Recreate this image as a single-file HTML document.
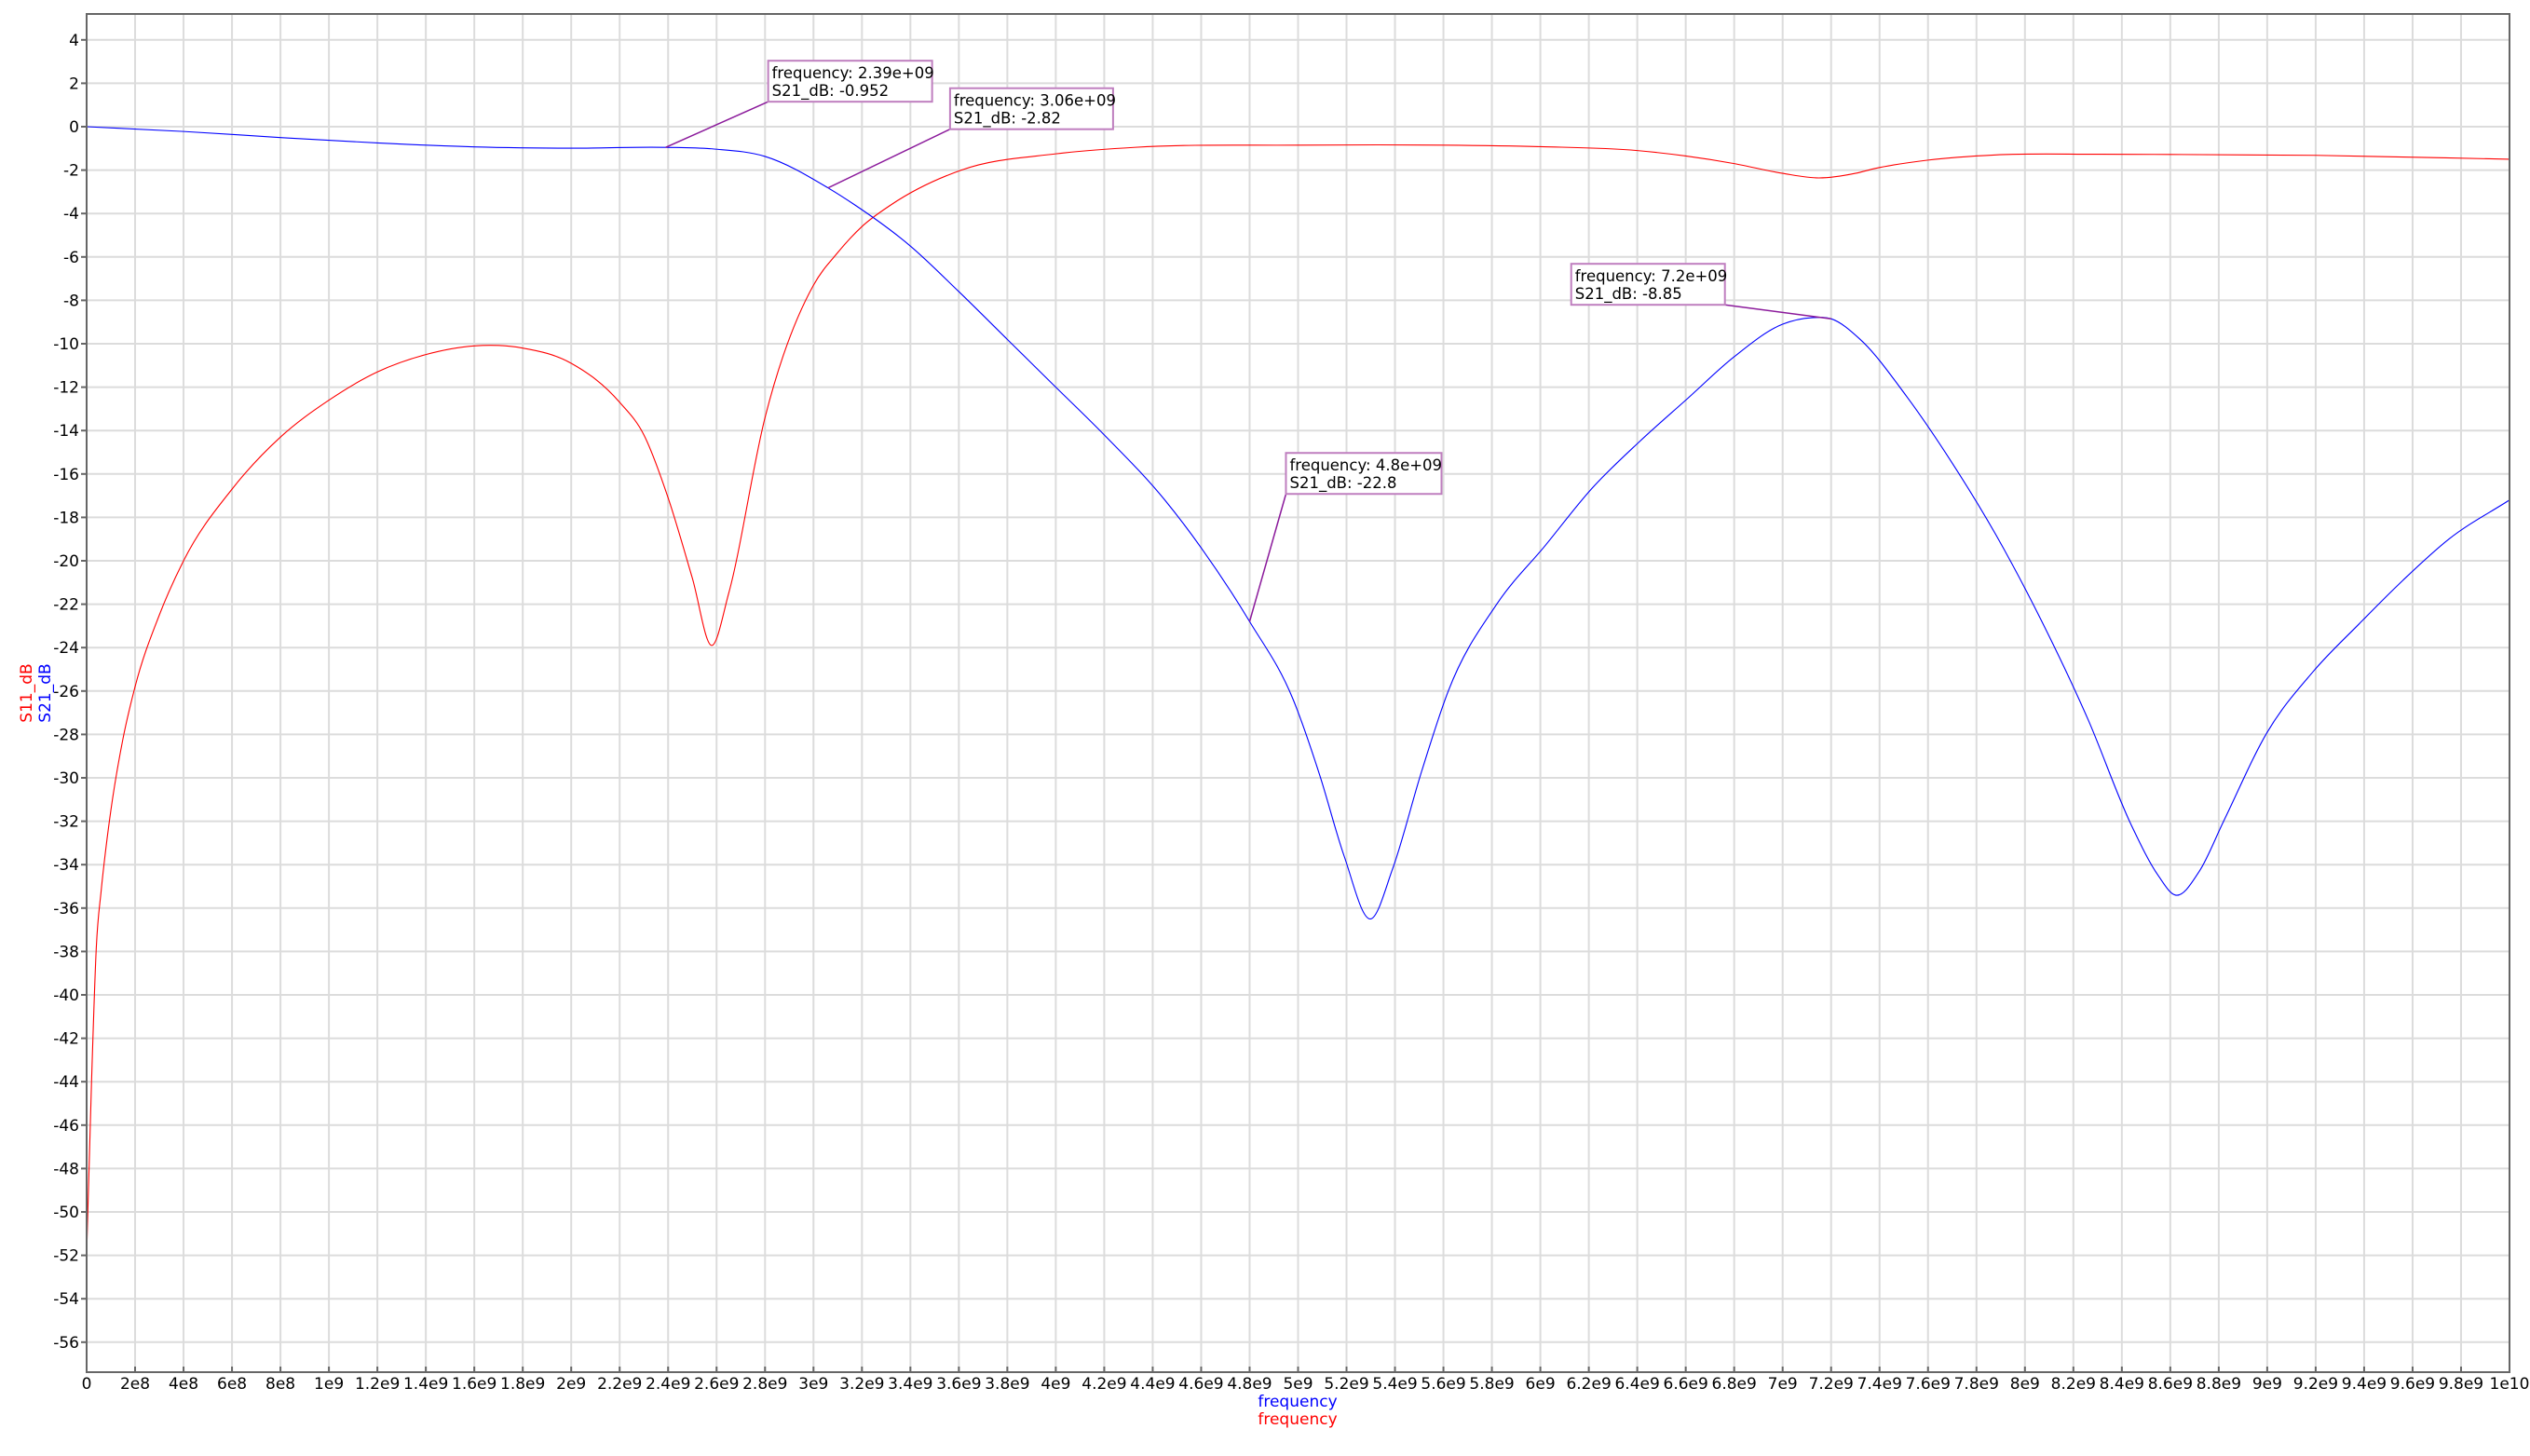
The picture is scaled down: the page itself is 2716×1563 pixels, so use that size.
<!DOCTYPE html>
<html><head><meta charset="utf-8"><style>
html,body{margin:0;padding:0;background:#fff;}
svg{display:block;font-family:"DejaVu Sans","Liberation Sans",sans-serif;}
</style></head><body>
<svg id="chart" width="2716" height="1563" viewBox="0 0 2716 1563" xmlns="http://www.w3.org/2000/svg">
<rect x="0" y="0" width="2716" height="1563" fill="#fff"/>
<g id="grid"></g>
<g id="series"></g>
<g id="axes"></g>
<g id="annots"></g>
<text x="1393" y="1510" font-size="17" fill="#0000ff" text-anchor="middle">frequency</text>
<text x="1393" y="1529" font-size="17" fill="#ff0000" text-anchor="middle">frequency</text>
<text transform="translate(34,744) rotate(-90)" font-size="17" fill="#ff0000" text-anchor="middle">S11_dB</text>
<text transform="translate(54,744) rotate(-90)" font-size="17" fill="#0000ff" text-anchor="middle">S21_dB</text>
</svg>
<script>
const xTickValues = [0,2e8,4e8,6e8,8e8,1e9,1.2e9,1.4e9,1.6e9,1.8e9,2e9,2.2e9,2.4e9,2.6e9,2.8e9,3e9,3.2e9,3.4e9,3.6e9,3.8e9,4e9,4.2e9,4.4e9,4.6e9,4.8e9,5e9,5.2e9,5.4e9,5.6e9,5.8e9,6e9,6.2e9,6.4e9,6.6e9,6.8e9,7e9,7.2e9,7.4e9,7.6e9,7.8e9,8e9,8.2e9,8.4e9,8.6e9,8.8e9,9e9,9.2e9,9.4e9,9.6e9,9.8e9,1e10];
const xTickLabels = ["0","2e8","4e8","6e8","8e8","1e9","1.2e9","1.4e9","1.6e9","1.8e9","2e9","2.2e9","2.4e9","2.6e9","2.8e9","3e9","3.2e9","3.4e9","3.6e9","3.8e9","4e9","4.2e9","4.4e9","4.6e9","4.8e9","5e9","5.2e9","5.4e9","5.6e9","5.8e9","6e9","6.2e9","6.4e9","6.6e9","6.8e9","7e9","7.2e9","7.4e9","7.6e9","7.8e9","8e9","8.2e9","8.4e9","8.6e9","8.8e9","9e9","9.2e9","9.4e9","9.6e9","9.8e9","1e10"];
const yTickValues = [4,2,0,-2,-4,-6,-8,-10,-12,-14,-16,-18,-20,-22,-24,-26,-28,-30,-32,-34,-36,-38,-40,-42,-44,-46,-48,-50,-52,-54,-56];
// frequencies in GHz
const s11Freq = [0,0.02,0.04,0.06,0.08,0.1,0.15,0.2,0.3,0.4,0.6,0.8,1.0,1.2,1.4,1.6,1.7,1.8,2.0,2.2,2.3,2.4,2.5,2.58,2.65,2.8,3.0,3.1,3.2,3.32,3.61,4.0,4.33,5.0,5.6,6.0,6.4,6.6,6.8,7.0,7.15,7.3,7.38,7.6,7.88,8.3,8.6,9.2,10.0];
const s11dB = [-52,-44.1,-37.8,-35.2,-33.2,-31.5,-28.2,-25.8,-22.5,-20.0,-16.7,-14.3,-12.6,-11.3,-10.5,-10.1,-10.08,-10.2,-10.9,-12.7,-14.2,-17.1,-20.8,-23.9,-21.5,-13.4,-7.3,-5.8,-4.6,-3.6,-2.0,-1.25,-0.95,-0.85,-0.85,-0.92,-1.1,-1.35,-1.7,-2.15,-2.36,-2.15,-1.93,-1.54,-1.3,-1.27,-1.28,-1.32,-1.5];
const s21Freq = [0,0.4,0.8,1.2,1.6,2.0,2.39,2.59,2.8,3.06,3.17,3.4,3.6,3.8,4.0,4.2,4.45,4.6,4.8,4.98,5.09,5.19,5.30,5.39,5.51,5.62,5.82,6.02,6.21,6.41,6.61,6.80,7.0,7.12,7.2,7.32,7.51,7.70,7.88,8.07,8.26,8.44,8.55,8.62,8.72,8.82,9.0,9.19,9.38,9.56,9.75,10.0];
const s21dB = [0,-0.22,-0.5,-0.75,-0.93,-0.99,-0.952,-1.03,-1.37,-2.82,-3.6,-5.5,-7.6,-9.8,-12.0,-14.2,-17.2,-19.4,-22.8,-26.4,-29.9,-33.6,-36.5,-34.2,-29.7,-26.0,-22.0,-19.3,-16.7,-14.5,-12.5,-10.6,-9.1,-8.8,-8.85,-9.8,-12.4,-15.5,-18.8,-22.8,-27.3,-32.2,-34.5,-35.4,-34.3,-32.0,-27.9,-25.1,-22.9,-20.9,-19.0,-17.2];
const markerFreq = [2.39,3.06,4.8,7.2];
const markerVal = [-0.952,-2.82,-22.8,-8.85];
const markerText = [["frequency: 2.39e+09","S21_dB: -0.952"],["frequency: 3.06e+09","S21_dB: -2.82"],["frequency: 4.8e+09","S21_dB: -22.8"],["frequency: 7.2e+09","S21_dB: -8.85"]];

const NS="http://www.w3.org/2000/svg";
const L=93,R=2694,T=15,B=1473;
const yZero=136, yPer=23.3;
function xs(fGHz){return L+(R-L)*fGHz/10;}
function ys(v){return yZero-v*yPer;}
function mk(tag,attrs,parent){const e=document.createElementNS(NS,tag);for(const k in attrs)e.setAttribute(k,attrs[k]);parent.appendChild(e);return e;}
const grid=document.getElementById('grid'),axes=document.getElementById('axes'),series=document.getElementById('series'),ann=document.getElementById('annots');
xTickValues.forEach((v,i)=>{
  const x=xs(v/1e9);
  const g=mk('line',{x1:x,x2:x,y1:T,y2:B,stroke:'#dcdcdc','stroke-width':2},grid);
  
  
  const t=mk('line',{x1:x,x2:x,y1:B-6,y2:B,stroke:'#666','stroke-width':2},axes);
  
  
  const lb=mk('text',{x:x,y:1491,'font-size':17,'text-anchor':'middle',fill:'#000'},axes);
  lb.textContent=xTickLabels[i];
  
  
});
yTickValues.forEach(v=>{
  const y=ys(v);
  const g=mk('line',{x1:L,x2:R,y1:y,y2:y,stroke:'#dcdcdc','stroke-width':2},grid);
  
  
  const t=mk('line',{x1:L-6,x2:L,y1:y,y2:y,stroke:'#666','stroke-width':2},axes);
  
  
  const lb=mk('text',{x:L-8,y:y+6,'font-size':17,'text-anchor':'end',fill:'#000'},axes);
  lb.textContent=String(v);
  
  
});
const frame=mk('rect',{x:L,y:T,width:R-L,height:B-T,fill:'none',stroke:'#666','stroke-width':2},axes);



function smoothPath(fx,vy){
  const p=fx.map((f,i)=>[xs(f),ys(vy[i])]);
  const n=p.length,m=[];
  for(let i=0;i<n;i++){
    if(i===0){m.push((p[1][1]-p[0][1])/(p[1][0]-p[0][0]));continue;}
    if(i===n-1){m.push((p[i][1]-p[i-1][1])/(p[i][0]-p[i-1][0]));continue;}
    const h0=p[i][0]-p[i-1][0],h1=p[i+1][0]-p[i][0];
    const d0=(p[i][1]-p[i-1][1])/h0,d1=(p[i+1][1]-p[i][1])/h1;
    m.push((d1*h0+d0*h1)/(h0+h1));
  }
  let d='M'+p[0][0].toFixed(2)+' '+p[0][1].toFixed(2);
  for(let i=0;i<n-1;i++){
    const h=p[i+1][0]-p[i][0];
    d+=' C'+(p[i][0]+h/3).toFixed(2)+' '+(p[i][1]+m[i]*h/3).toFixed(2)+' '+(p[i+1][0]-h/3).toFixed(2)+' '+(p[i+1][1]-m[i+1]*h/3).toFixed(2)+' '+p[i+1][0].toFixed(2)+' '+p[i+1][1].toFixed(2);
  }
  return d;
}
const s11=mk('path',{d:smoothPath(s11Freq,s11dB),fill:'none',stroke:'#ff0000','stroke-width':1.1},series);


const s21=mk('path',{d:smoothPath(s21Freq,s21dB),fill:'none',stroke:'#0000ff','stroke-width':1.1},series);



// annotation box anchor offsets relative to marker point (layout, not data)
const boxOff=[[110,-49,'bl'],[131,-63,'bl'],[39,-137,'bl'],[-114,-15,'br']];
const boxW=[176,175,167,165];
markerFreq.forEach((f,i)=>{
  const px=xs(f),py=ys(markerVal[i]);
  const w=boxW[i],h=44;
  const o=boxOff[i];
  const ax=px+o[0], ay=py+o[1];
  const bx=o[2]==='bl'?ax:ax-w, by=ay-h;
  const ln=mk('line',{x1:px,y1:py,x2:ax,y2:ay,stroke:'#8b1a9b','stroke-width':1.5},ann);
  
  
  const g=mk('g',{},ann);
  
  
  mk('rect',{x:bx,y:by,width:w,height:h,fill:'#fff',stroke:'#bf7fbf','stroke-width':2},g);
  const t1=mk('text',{x:bx+4,y:by+19,'font-size':16.5,fill:'#000'},g);t1.textContent=markerText[i][0];
  const t2=mk('text',{x:bx+4,y:by+38,'font-size':16.5,fill:'#000'},g);t2.textContent=markerText[i][1];
});
</script>
</body></html>
